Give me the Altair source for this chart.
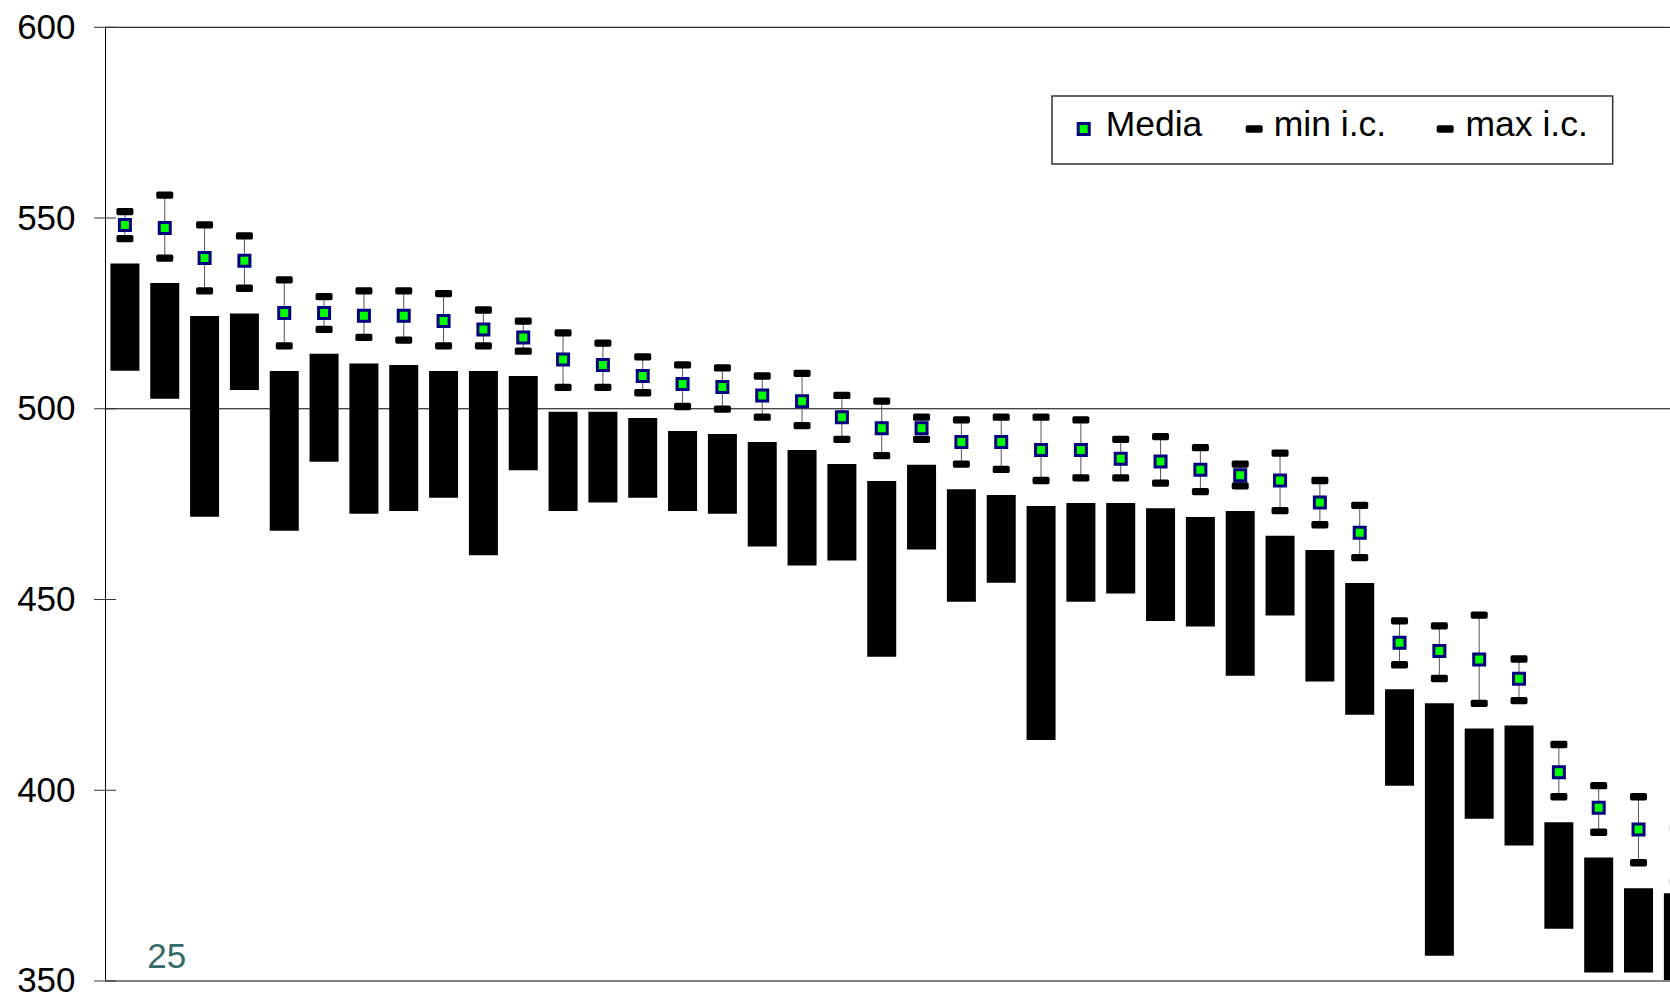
import altair as alt
import pandas as pd

# Scores per unit (ordered by mean): mean, confidence interval bounds and range bars
unit = list(range(1, 41))
media = [548.2, 547.4, 539.5, 538.8, 525.1, 525.1, 524.4, 524.4, 523.0, 520.8,
         518.7, 512.9, 511.5, 508.6, 506.5, 505.7, 503.5, 502.0, 497.8, 494.9,
         494.9, 491.3, 491.3, 489.2, 489.2, 486.9, 486.2, 484.0, 482.6, 481.2,
         475.4, 467.5, 438.7, 436.5, 434.3, 429.2, 404.7, 395.4, 389.7, 383.0]
ic_max = [551.7, 556.0, 548.2, 545.3, 533.8, 529.4, 530.9, 530.9, 530.2, 525.9,
          523.0, 519.9, 517.2, 513.6, 511.5, 510.7, 508.6, 509.3, 503.5, 502.0,
          497.8, 497.1, 497.8, 497.8, 497.1, 492.0, 492.7, 489.8, 485.5, 488.4,
          481.2, 474.7, 444.4, 443.1, 445.9, 434.4, 412.0, 401.2, 398.3, 390.0]
ic_min = [544.6, 539.5, 530.9, 531.6, 516.5, 520.8, 518.7, 518.0, 516.5, 516.5,
          515.1, 505.6, 505.6, 504.2, 500.6, 499.9, 497.8, 495.6, 492.0, 487.7,
          492.0, 485.5, 484.1, 481.2, 481.9, 481.9, 480.5, 478.3, 479.8, 473.3,
          469.6, 461.0, 432.9, 429.3, 422.8, 423.5, 398.3, 389.0, 381.0, 376.0]
bar_hi = [538.1, 533.0, 524.3, 525.0, 509.9, 514.4, 511.9, 511.5, 509.9, 509.9,
          508.6, 499.2, 499.2, 497.6, 494.2, 493.4, 491.3, 489.2, 485.5, 481.1,
          485.3, 478.9, 477.4, 474.5, 475.3, 475.3, 473.9, 471.6, 473.2, 466.7,
          463.0, 454.3, 426.5, 422.8, 416.2, 417.0, 391.6, 382.4, 374.3, 373.0]
bar_lo = [510.0, 502.6, 471.7, 504.9, 468.0, 486.1, 472.5, 473.2, 476.7, 461.6,
          483.9, 473.2, 475.4, 476.7, 473.2, 472.5, 463.9, 458.9, 460.2, 435.0,
          463.1, 449.4, 454.4, 413.2, 449.4, 451.6, 444.4, 442.9, 430.0, 445.8,
          428.5, 419.8, 401.2, 356.6, 392.5, 385.5, 363.7, 352.2, 352.2, 350.0]

y_ticks = [350, 400, 450, 500, 550, 600]
legend_labels = ["Media", "min i.c.", "max i.c."]
page_number = "25"

df = pd.DataFrame({"unit": unit, "media": media, "ic_max": ic_max,
                   "ic_min": ic_min, "bar_hi": bar_hi, "bar_lo": bar_lo})

FONT = "Liberation Sans"
GREEN = "#00FF00"
NAVY = "#000080"
CAP_PATH = ("M-0.8,-0.43 L0.8,-0.43 Q1,-0.43 1,-0.23 L1,0.23 Q1,0.43 0.8,0.43 "
            "L-0.8,0.43 Q-1,0.43 -1,0.23 L-1,-0.23 Q-1,-0.43 -0.8,-0.43 Z")

x_scale = alt.Scale(domain=[0.5, 39.79], nice=False, zero=False, padding=0)
y_scale = alt.Scale(domain=[350, 600], nice=False, zero=False, padding=0)

x_enc = alt.X("unit:Q", scale=x_scale, axis=None)

base = alt.Chart(df)

bars = base.mark_bar(size=29, color="black", clip=True).encode(
    x=x_enc,
    y=alt.Y("bar_lo:Q", scale=y_scale,
            axis=alt.Axis(values=y_ticks, title=None, grid=False, ticks=False,
                          labelPadding=30, labelFont=FONT, labelFontSize=35,
                          labelColor="black", domainColor="black", domainWidth=1)),
    y2="bar_hi:Q",
)

whisker = base.mark_rule(color="#555555", strokeWidth=1, clip=True).encode(
    x=x_enc, y=alt.Y("ic_min:Q", scale=y_scale), y2="ic_max:Q"
)

cap_max = base.mark_point(shape=CAP_PATH, size=289, filled=True, color="black",
                          opacity=1, clip=True).encode(
    x=x_enc, y=alt.Y("ic_max:Q", scale=y_scale)
)
cap_min = base.mark_point(shape=CAP_PATH, size=289, filled=True, color="black",
                          opacity=1, clip=True).encode(
    x=x_enc, y=alt.Y("ic_min:Q", scale=y_scale)
)

means = base.mark_square(size=121, fill=GREEN, stroke=NAVY, strokeWidth=3,
                         opacity=1, clip=True).encode(
    x=x_enc, y=alt.Y("media:Q", scale=y_scale)
)

# Frame lines: top border at 600, reference line at 500, baseline at 350
top_line = alt.Chart(pd.DataFrame({"v": [600]})).mark_rule(
    color="black", strokeWidth=1).encode(y=alt.Y("v:Q", scale=y_scale))
ref_line = alt.Chart(pd.DataFrame({"v": [500]})).mark_rule(
    color="black", strokeWidth=1).encode(y=alt.Y("v:Q", scale=y_scale))
base_line = alt.Chart(pd.DataFrame({"v": [350]})).mark_rule(
    color="#808080", strokeWidth=2).encode(y=alt.Y("v:Q", scale=y_scale))

# Cross ticks on the value axis
ticks = alt.Chart(pd.DataFrame({"v": y_ticks})).mark_rule(
    color="#333333", strokeWidth=1).encode(
    y=alt.Y("v:Q", scale=y_scale), x=alt.value(-11), x2=alt.value(11))

# Legend box
one = pd.DataFrame({"k": [0]})
leg_box = alt.Chart(one).mark_rect(fill="white", stroke="#333333",
                                   strokeWidth=1.5).encode(
    x=alt.value(947), x2=alt.value(1507.7), y=alt.value(68.7), y2=alt.value(136.7))
leg_sym_media = alt.Chart(one).mark_square(size=121, fill=GREEN, stroke=NAVY,
                                           strokeWidth=3, opacity=1).encode(
    x=alt.value(978.7), y=alt.value(101.7))
leg_sym_min = alt.Chart(one).mark_point(shape=CAP_PATH, size=289, filled=True,
                                        color="black", opacity=1).encode(
    x=alt.value(1149.2), y=alt.value(101.7))
leg_sym_max = alt.Chart(one).mark_point(shape=CAP_PATH, size=289, filled=True,
                                        color="black", opacity=1).encode(
    x=alt.value(1340.2), y=alt.value(101.7))


def legend_text(label, x):
    return alt.Chart(pd.DataFrame({"t": [label]})).mark_text(
        align="left", baseline="alphabetic", font=FONT, fontSize=35.5,
        color="black").encode(
        text="t:N", x=alt.value(x), y=alt.value(108.4))


leg_txt = [legend_text(legend_labels[0], 1000.7),
           legend_text(legend_labels[1], 1168.8),
           legend_text(legend_labels[2], 1360.5)]

page = alt.Chart(pd.DataFrame({"t": [page_number]})).mark_text(
    align="left", baseline="alphabetic", font=FONT, fontSize=35,
    color="#336B6B").encode(text="t:N", x=alt.value(42.3), y=alt.value(941))

chart = alt.layer(
    bars, top_line, ref_line, base_line, whisker, cap_max, cap_min, means,
    ticks, leg_box, leg_sym_media, leg_sym_min, leg_sym_max, *leg_txt, page
).properties(
    width=1565, height=953.7,
    autosize=alt.AutoSizeParams(type="none"),
    padding={"left": 105, "top": 27.3, "right": 0, "bottom": 15.3},
    background="white",
).configure_view(stroke=None)

chart.save("out.html", embed_options={"renderer": "svg", "actions": False})
